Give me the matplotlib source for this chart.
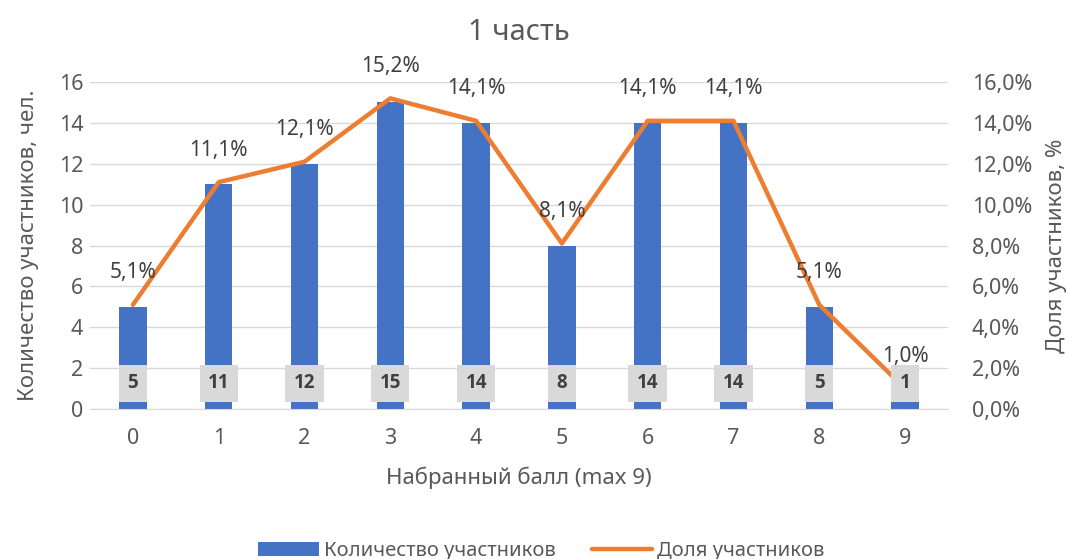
import numpy as np
import matplotlib.pyplot as plt
from matplotlib.ticker import FuncFormatter

plt.rcParams['font.family'] = ['Noto Sans', 'DejaVu Sans']

# Данные
scores = ['0', '1', '2', '3', '4', '5', '6', '7', '8', '9']
counts = [5, 11, 12, 15, 14, 8, 14, 14, 5, 1]
shares = [5.1, 11.1, 12.1, 15.2, 14.1, 8.1, 14.1, 14.1, 5.1, 1.0]

text_color = '#595959'
bar_color = '#4472C4'
line_color = '#ED7D31'

fig = plt.figure(figsize=(10.68, 5.59), dpi=100)
ax = fig.add_axes([0.0843, 0.2683, 0.8033, 0.585])
ax2 = ax.twinx()

x = np.arange(len(scores))
ax.bar(x, counts, width=0.32, color=bar_color, zorder=2, label='Количество участников')
ax2.plot(x, shares, color=line_color, lw=3.2, solid_capstyle='round', zorder=3,
         label='Доля участников')

# Подписи значений столбцов (в серых рамках) - поверх линии, шкала та же 0..16
for xi, c in zip(x, counts):
    ax2.text(xi, 1.25, str(c), ha='center', va='center', fontsize=13.5, fontweight='bold',
             family=['Open Sans', 'DejaVu Sans'], color='#404040', zorder=4,
             bbox=dict(boxstyle='square,pad=0.45', fc='#D9D9D9', ec='none'))

# Подписи процентов над линией
for xi, s in zip(x, shares):
    ax2.annotate(f'{s:.1f}%'.replace('.', ','), (xi, s), xytext=(0, 23),
                 textcoords='offset points', ha='center', va='center',
                 fontsize=15, color='#404040', zorder=5)

ax.set_xlim(-0.5, len(scores) - 0.5)
ax.set_ylim(0, 16)
ax.set_yticks(range(0, 17, 2))
ax2.set_ylim(0, 16)
ax2.set_yticks(range(0, 17, 2))
ax2.yaxis.set_major_formatter(FuncFormatter(lambda v, p: f'{v:.1f}%'.replace('.', ',')))

ax.set_xticks(x)
ax.set_xticklabels(scores)
ax.grid(axis='y', color='#D9D9D9', lw=1, zorder=0)
ax.set_axisbelow(True)

for a in (ax, ax2):
    for side in ('top', 'left', 'right'):
        a.spines[side].set_visible(False)
    a.spines['bottom'].set_color('#D9D9D9')
    a.tick_params(length=0, labelsize=15.5, colors=text_color)

ax2.spines['bottom'].set_visible(False)
ax.tick_params(axis='y', pad=5)
ax.tick_params(axis='x', pad=14)
ax2.tick_params(axis='y', pad=17)

ax.set_title('1 часть', fontsize=21, color=text_color, pad=30)
ax.set_xlabel('Набранный балл (max 9)', fontsize=16, color=text_color, labelpad=12)
ax.set_ylabel('Количество участников, чел.', fontsize=16, color=text_color, labelpad=14)
ax2.set_ylabel('Доля участников, %', fontsize=16, color=text_color, labelpad=10)

h1, l1 = ax.get_legend_handles_labels()
h2, l2 = ax2.get_legend_handles_labels()
fig.legend(h1 + h2, l1 + l2, loc='center', bbox_to_anchor=(0.507, 0.015), ncol=2,
           frameon=False, fontsize=14.5, labelcolor=text_color, handlelength=3.0,
           columnspacing=1.8, handletextpad=0.25)

fig.savefig('out.png', dpi=100)
